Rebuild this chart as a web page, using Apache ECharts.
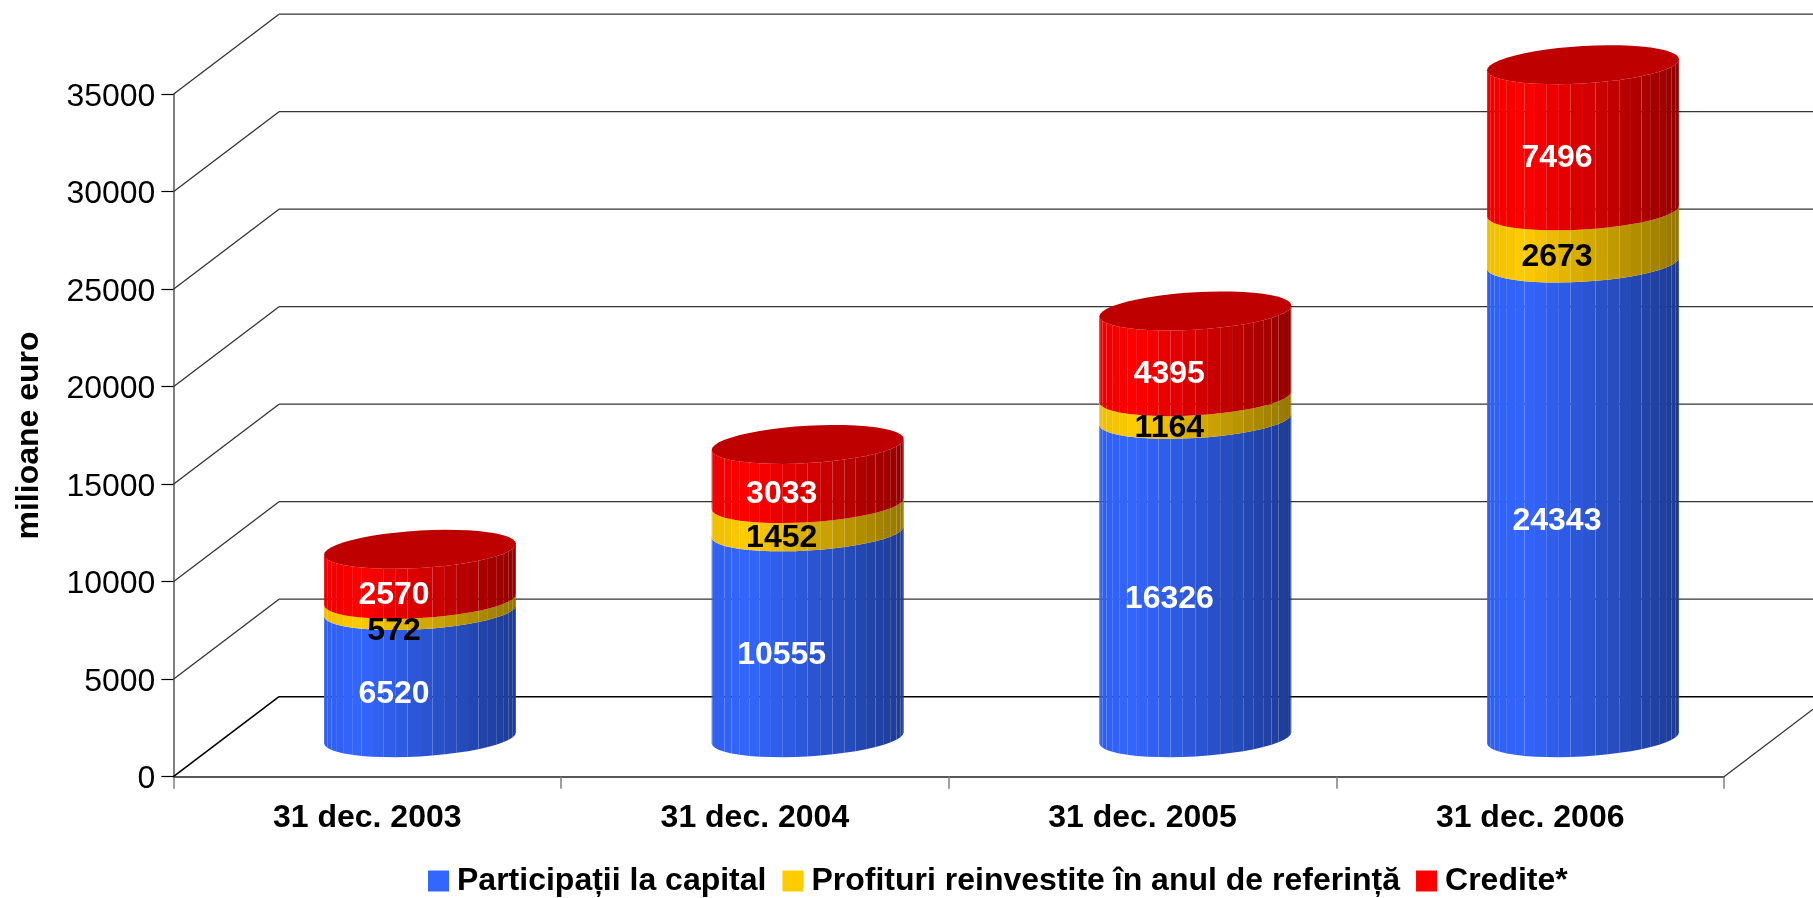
<!DOCTYPE html>
<html>
<head>
<meta charset="utf-8">
<style>html,body{margin:0;padding:0;background:#fff}#chart{width:1813px;height:898px}</style>
<script src="https://cdn.jsdelivr.net/npm/echarts@6/dist/echarts.min.js"></script>
</head>
<body>
<div id="chart"></div>
<script>
const categories = ['31 dec. 2003', '31 dec. 2004', '31 dec. 2005', '31 dec. 2006'];
const participatii = [6520, 10555, 16326, 24343];
const profituri = [572, 1452, 1164, 2673];
const credite = [2570, 3033, 4395, 7496];
const yTicks = [0, 5000, 10000, 15000, 20000, 25000, 30000, 35000];

const FONT = '"Liberation Sans", Arial, sans-serif';
const DEPTH_X = 105.6;
const DEPTH_Y = 80;
const CYL_LIFT = 39;
const RADIUS_X = 96;
const RIM_TILT = 5.5;
const RIM_DROP = 18.7;
const FACET_DEG = 7.5;

const BLUE = [0x33, 0x66, 0xff];
const YELLOW = [0xff, 0xcc, 0x00];
const RED = [0xff, 0x00, 0x00];

const stack = [participatii, profituri, credite];
const labelColors = ['#fff', '#000', '#fff'];

function rgb(c, f) {
  return 'rgb(' + c.map((v) => Math.round(v * f)).join(',') + ')';
}

// brightest a little left of the middle, then falling off to the right
function shade(dx) {
  if (dx < -60) return 0.93 + 0.07 * (dx + RADIUS_X) / 36;
  return 1 - 0.42 * (dx + 60) / 156;
}

function rim(cx, cy, deg) {
  const t = deg * Math.PI / 180;
  return [cx + RADIUS_X * Math.cos(t), cy - RIM_TILT * Math.cos(t) + RIM_DROP * Math.sin(t)];
}

function stackBase(level, i) {
  let base = 0;
  for (let k = 0; k < level; k++) base += stack[k][i];
  return base;
}

function cylinderItem(level, color, withTop) {
  return function (params, api) {
    const i = api.value(0);
    const base = stackBase(level, i);
    const p0 = api.coord([i, base]);
    const p1 = api.coord([i, base + stack[level][i]]);
    const cx = p0[0] + DEPTH_X / 2;
    const y0 = p0[1] - CYL_LIFT;
    const y1 = p1[1] - CYL_LIFT;
    const children = [];
    for (let d = 180; d > 0; d -= FACET_DEG) {
      const a = rim(cx, y0, d);
      const b = rim(cx, y0, d - FACET_DEG);
      const c = rim(cx, y1, d - FACET_DEG);
      const e = rim(cx, y1, d);
      const dx = (a[0] + b[0]) / 2 - cx;
      children.push({
        type: 'polygon',
        shape: { points: [a, b, c, e] },
        style: { fill: rgb(color, shade(dx)) },
      });
    }
    if (withTop) {
      const pts = [];
      for (let d = 0; d < 360; d += FACET_DEG) pts.push(rim(cx, y1, d));
      children.push({ type: 'polygon', shape: { points: pts }, style: { fill: rgb(color, 0.75) } });
    }
    return { type: 'group', children };
  };
}

function labelItem(params, api) {
  const i = api.value(0);
  const level = api.value(1);
  const v = stack[level][i];
  const p = api.coord([i, stackBase(level, i) + v / 2]);
  // the thin 572 band: its label sits lower in the original, clear of 2570
  const nudge = level === 1 && i === 0 ? 6 : 0;
  return {
    type: 'text',
    style: {
      text: String(v),
      x: p[0] + DEPTH_X / 2 - 26,
      y: p[1] - CYL_LIFT + 20.5 + nudge,
      fill: labelColors[level],
      font: 'bold 32px ' + FONT,
      align: 'center',
      verticalAlign: 'middle',
    },
  };
}

function wallItem(params, api) {
  const tick = api.value(1);
  const y = api.coord([0, tick])[1];
  const left = params.coordSys.x;
  const right = left + params.coordSys.width;
  const isFloor = tick === 0;
  const line = { stroke: isFloor ? '#000' : '#333', lineWidth: isFloor ? 1.6 : 1.3 };
  const children = [
    { type: 'line', shape: { x1: left, y1: y, x2: left + DEPTH_X, y2: y - DEPTH_Y }, style: line },
    { type: 'line', shape: { x1: left + DEPTH_X, y1: y - DEPTH_Y, x2: right + DEPTH_X, y2: y - DEPTH_Y }, style: line },
  ];
  if (isFloor) {
    children.push({ type: 'line', shape: { x1: right, y1: y, x2: right + DEPTH_X, y2: y - DEPTH_Y }, style: { stroke: '#333', lineWidth: 1.3 } });
  }
  return { type: 'group', children };
}

const chart = echarts.init(document.getElementById('chart'), null, { renderer: 'canvas' });
const indexData = categories.map((c, i) => [i, 0]);
const labelData = [];
categories.forEach((c, i) => stack.forEach((s, level) => labelData.push([i, level])));

chart.setOption({
  backgroundColor: '#fff',
  animation: false,
  grid: { left: 173.4, right: 89, top: 94.2, bottom: 121.3, containLabel: false },
  legend: {
    data: ['Participații la capital', 'Profituri reinvestite în anul de referință', 'Credite*'],
    left: 428,
    top: 865,
    icon: 'rect',
    itemWidth: 21,
    itemHeight: 21,
    itemGap: 16,
    padding: 0,
    selectedMode: false,
    textStyle: { color: '#000', fontFamily: FONT, fontWeight: 'bold', fontSize: 32, padding: [0, 0, 0, 3] },
  },
  xAxis: {
    type: 'category',
    data: categories,
    axisLine: { lineStyle: { color: '#222', width: 1.5 } },
    axisTick: { show: true, length: 12, lineStyle: { color: '#808080', width: 1.5 } },
    axisLabel: { color: '#000', fontFamily: FONT, fontWeight: 'bold', fontSize: 32, margin: 25 },
  },
  yAxis: {
    type: 'value',
    min: 0,
    max: 35000,
    interval: 5000,
    name: 'milioane euro',
    nameLocation: 'middle',
    nameGap: 128,
    nameTextStyle: { color: '#000', fontFamily: FONT, fontWeight: 'bold', fontSize: 32 },
    axisLine: { show: true, lineStyle: { color: '#808080', width: 2 } },
    axisTick: { show: true, length: 12, lineStyle: { color: '#000', width: 1.2 } },
    axisLabel: {
      color: '#000',
      fontFamily: FONT,
      fontSize: 32,
      margin: 18,
      // labels sit a bit under their tick in the original
      verticalAlign: 'top',
      lineHeight: 5,
      formatter: (v) => String(v),
    },
    splitLine: { show: false },
  },
  series: [
    {
      name: 'walls',
      type: 'custom',
      silent: true,
      z: 1,
      renderItem: wallItem,
      data: yTicks.map((t) => [0, t]),
    },
    {
      name: 'Participații la capital',
      type: 'custom',
      silent: true,
      z: 2,
      itemStyle: { color: rgb(BLUE, 1) },
      renderItem: cylinderItem(0, BLUE, false),
      data: indexData,
    },
    {
      name: 'Profituri reinvestite în anul de referință',
      type: 'custom',
      silent: true,
      z: 3,
      itemStyle: { color: rgb(YELLOW, 1) },
      renderItem: cylinderItem(1, YELLOW, false),
      data: indexData,
    },
    {
      name: 'Credite*',
      type: 'custom',
      silent: true,
      z: 4,
      itemStyle: { color: rgb(RED, 1) },
      renderItem: cylinderItem(2, RED, true),
      data: indexData,
    },
    {
      name: 'labels',
      type: 'custom',
      silent: true,
      z: 5,
      renderItem: labelItem,
      data: labelData,
    },
  ],
});
</script>
</body>
</html>
